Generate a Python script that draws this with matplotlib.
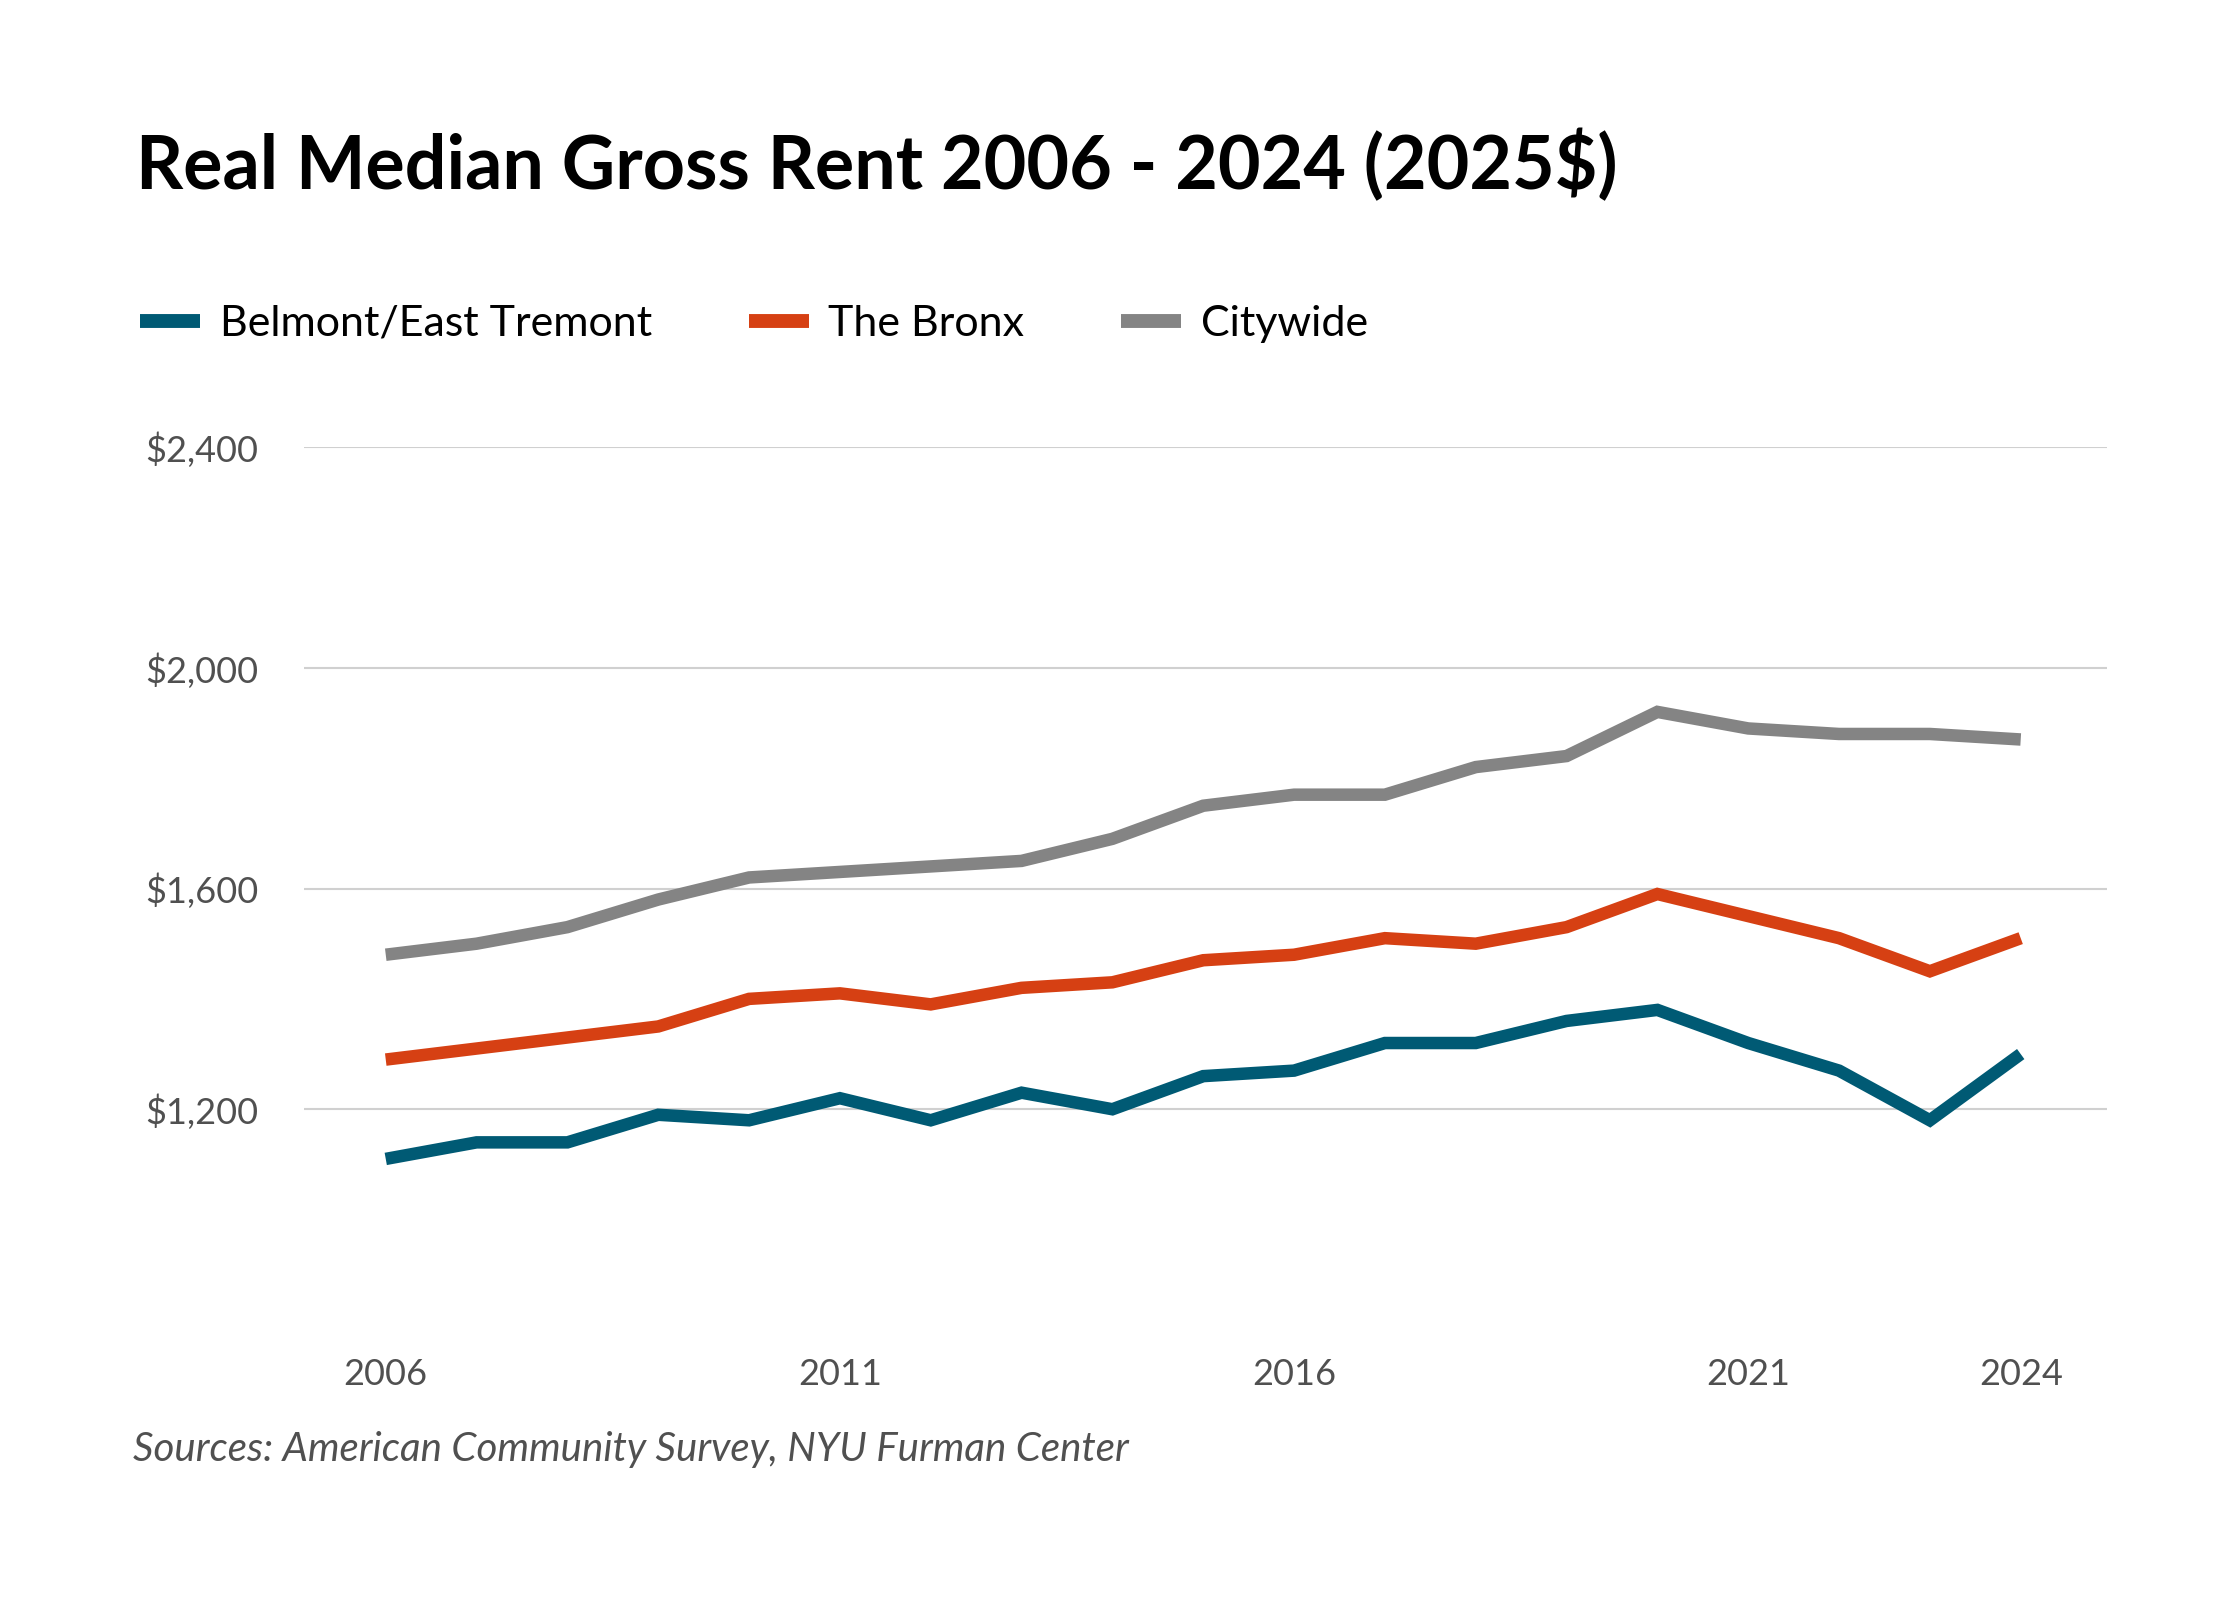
import matplotlib
matplotlib.use("Agg")
import matplotlib.pyplot as plt
from matplotlib.ticker import FuncFormatter

years = list(range(2006, 2025))
belmont = [1110, 1140, 1140, 1190, 1180, 1220, 1180, 1230, 1200, 1260,
           1270, 1320, 1320, 1360, 1380, 1320, 1270, 1180, 1300]
bronx = [1290, 1310, 1330, 1350, 1400, 1410, 1390, 1420, 1430, 1470,
         1480, 1510, 1500, 1530, 1590, 1550, 1510, 1450, 1510]
citywide = [1480, 1500, 1530, 1580, 1620, 1630, 1640, 1650, 1690, 1750,
            1770, 1770, 1820, 1840, 1920, 1890, 1880, 1880, 1870]
series_names = ["Belmont/East Tremont", "The Bronx", "Citywide"]
y_ticks = [1200, 1600, 2000, 2400]
x_ticks = [2006, 2011, 2016, 2021, 2024]

colors = ["#005a74", "#d64013", "#848484"]
W, H = 2240, 1600

fig = plt.figure(figsize=(W / 100, H / 100), dpi=100)
fig.patch.set_facecolor("white")
ax = fig.add_axes([304 / W, 1 - 1330 / H, (2107 - 304) / W, (1330 - 447) / H])

handles = []
for vals, name, c in zip([belmont, bronx, citywide], series_names, colors):
    h, = ax.plot(years, vals, color=c, lw=9, solid_joinstyle="miter",
                 solid_capstyle="butt", label=name)
    handles.append(h)

ax.set_xlim(2005.1, 2024.95)
ax.set_ylim(800, 2400)
ax.set_yticks(y_ticks)
ax.set_xticks(x_ticks)
ax.yaxis.set_major_formatter(FuncFormatter(lambda v, p: f"${v:,.0f}"))
ax.grid(axis="y", color="#d0d0d0", lw=1.5)
ax.set_axisbelow(True)
for s in ax.spines.values():
    s.set_visible(False)
ax.tick_params(length=0, labelcolor="#505050", labelsize=26)
ax.tick_params(axis="y", pad=33)
ax.tick_params(axis="x", pad=20)
for lab in ax.get_xticklabels() + ax.get_yticklabels():
    lab.set_family("Lato")

fig.text(136 / W, 1 - 189 / H, "Real Median Gross Rent 2006 - 2024 (2025$)",
         fontsize=53, fontweight="bold", family="Lato", color="black",
         va="baseline", ha="left")

leg = fig.legend(handles=handles, loc="center left",
                 bbox_to_anchor=(140 / W, 1 - 324 / H), ncol=3, frameon=False,
                 prop={"family": "Lato", "size": 31}, handlelength=1.4,
                 handletextpad=0.45, columnspacing=2.25, borderpad=0,
                 borderaxespad=0)
for line in leg.get_lines():
    line.set_linewidth(10)

fig.text(133 / W, 1 - 1450 / H, "Sources: American Community Survey, NYU Furman Center",
         fontsize=29, style="italic", family="Lato",
         color="#505050", va="center", ha="left")

fig.savefig("out.png", dpi=100, facecolor="white")
